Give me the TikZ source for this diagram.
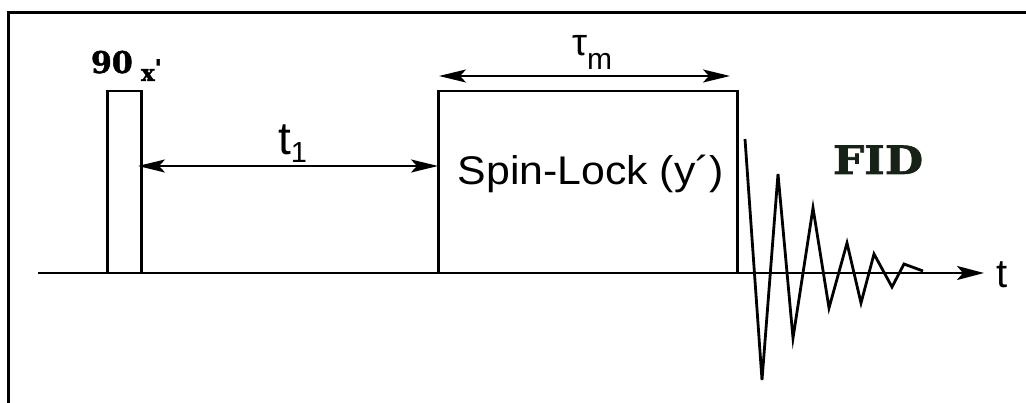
\documentclass[tikz,border=0pt]{standalone}
\usepackage{fontspec}
\setmainfont{Liberation Sans}
\newfontfamily\slabfont{DejaVu Serif}[BoldFeatures={FakeBold=1.6}]
\usetikzlibrary{arrows.meta}
\definecolor{fidcol}{RGB}{22,34,22}
\begin{document}
\begin{tikzpicture}[x=1pt,y=-1pt,
  frameline/.style={line width=2.2pt},
  pulsebox/.style={draw,line width=2.8pt,inner sep=0pt,outer sep=0pt},
  axisline/.style={line width=2.6pt,-{Stealth[length=27pt,width=14pt,inset=6pt]}},
  spanarrow/.style={line width=2.2pt,{Stealth[length=27pt,width=13pt,inset=6pt]}-{Stealth[length=27pt,width=13pt,inset=6pt]}},
  fidline/.style={line width=2.8pt,line join=miter},
  lbl/.style={inner sep=0pt,outer sep=0pt}]
\useasboundingbox (0,0) rectangle (1026,403);
% frame (top and left only)
\draw[frameline] (8.5,403) -- (8.5,12.5) -- (1026,12.5);
% axis
\coordinate (ax0) at (38,273);
\coordinate (ax1) at (984,273);
\draw[axisline] (ax0) -- (ax1);
\node[lbl,anchor=base west,font=\fontsize{40}{44}\selectfont] (tlab) at (996,288) {t};
% 90 pulse
\node[pulsebox,minimum width=34pt,minimum height=182pt] (p90) at (124.5,182) {};
\node[lbl,anchor=base west,font=\slabfont\bfseries\fontsize{30}{32}\selectfont] (n90) at (91,73) {90};
\node[lbl,anchor=base west,font=\slabfont\bfseries\fontsize{23}{24}\selectfont] (nx) at (141,81) {x\raisebox{5pt}{'}};
% spin-lock box
\node[pulsebox,minimum width=299pt,minimum height=182pt] (sl) at (588,182) {};
\node[lbl,anchor=base,font=\fontsize{40}{44}\selectfont] (sltext) at (591,185) {\scalebox{1.07}[1]{Spin-Lock (y´)}};
% t1 arrow
\coordinate (t1a) at (138,166);
\coordinate (t1b) at (438,166);
\draw[spanarrow] (t1a) -- (t1b);
\node[lbl,anchor=base west,font=\fontsize{46}{50}\selectfont] (t1lab) at (278,155) {t\raisebox{-8pt}{\fontsize{29}{32}\selectfont 1}};
% tau_m arrow
\coordinate (tma) at (439,76);
\coordinate (tmb) at (730,76);
\draw[spanarrow] (tma) -- (tmb);
\node[lbl,anchor=base west,font=\fontsize{38}{40}\selectfont] (tmlab) at (572,56) {τ\raisebox{-14pt}{\fontsize{30}{32}\selectfont m}};
% FID
\node[lbl,anchor=base,text=fidcol,font=\slabfont\bfseries\fontsize{39}{42}\selectfont] (fidlab) at (878,174) {\scalebox{1.13}[1]{FID}};
\coordinate (f0) at (745,139);
\coordinate (f1) at (762,380);
\coordinate (f2) at (778,174);
\coordinate (f3) at (793,338);
\coordinate (f4) at (813,208);
\coordinate (f5) at (829,308);
\coordinate (f6) at (847,243);
\coordinate (f7) at (861,303);
\coordinate (f8) at (874,254);
\coordinate (f9) at (892,287);
\coordinate (f10) at (904,264);
\coordinate (f11) at (923,271);
\draw[fidline] (f0) -- (f1) -- (f2) -- (f3) -- (f4) -- (f5) -- (f6) -- (f7) -- (f8) -- (f9) -- (f10) -- (f11);
\end{tikzpicture}
\end{document}
